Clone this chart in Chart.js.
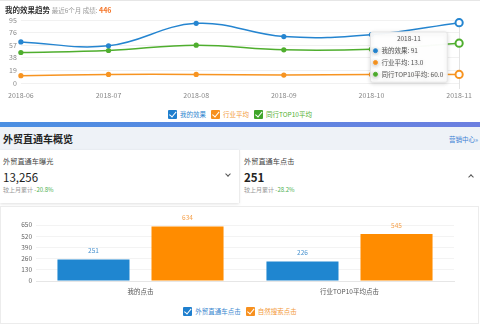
<!DOCTYPE html>
<html><head><meta charset="utf-8">
<script src="https://cdn.jsdelivr.net/npm/chart.js@4.4.1/dist/chart.umd.min.js"></script>
<style>
*{box-sizing:border-box}
body{margin:0;width:480px;height:325px;overflow:hidden;background:#fff;font-family:"Noto Sans CJK SC","Noto Sans",sans-serif;position:relative;color:#333}
.abs{position:absolute}
.cb{display:inline-block;width:9px;height:9px;position:relative;vertical-align:middle;margin-right:3px;border-radius:1px}
.cb::after{content:"";position:absolute;left:3px;top:0.5px;width:2.5px;height:5.5px;border-right:1.6px solid #fff;border-bottom:1.6px solid #fff;transform:rotate(40deg)}
.leg{font-size:6.5px;white-space:nowrap;line-height:10px}
.leg span.item{display:inline-block;margin:0 2.5px}
.chev{position:absolute;width:4px;height:4px;border-right:1px solid #555;border-bottom:1px solid #555}
</style></head>
<body>
<div class="abs" style="left:0;top:0;width:480px;height:1px;background:#e6e6e6"></div>
<canvas id="line" width="480" height="106" class="abs" style="left:0;top:0"></canvas>
<div class="abs" style="left:5px;top:4px;font-size:7.5px;line-height:12px;white-space:nowrap">
  <b style="color:#333">我的效果趋势</b>
  <span style="color:#999;font-size:6.5px"> 最近6个月 成绩: </span><b style="color:#f5762a;font-size:7px">446</b>
</div>
<div class="abs leg" id="topLegend" style="left:0;top:108px;width:480px;text-align:center"></div>

<div class="abs" style="left:0;top:122px;width:480px;height:5px;background:linear-gradient(90deg,#4a8fe2,#6c7fe0)"></div>
<div class="abs" style="left:0;top:127px;width:480px;height:23px;background:#eef2f7"></div>
<div class="abs" style="left:3px;top:127px;line-height:23px;font-size:10px;font-weight:bold;color:#222">外贸直通车概览</div>
<div class="abs" style="right:2px;top:127px;line-height:25px;font-size:6.5px;color:#3b7fd4">营销中心»</div>

<div class="abs" style="left:0;top:150px;width:239px;height:53px;background:#fff;box-shadow:0 1px 3px rgba(0,0,0,0.13)"></div>
<div class="abs" style="left:239px;top:150px;width:1px;height:53px;background:#ececec"></div>
<div class="abs" style="left:3px;top:156px;font-size:7.2px;line-height:10px;color:#444">外贸直通车曝光</div>
<div class="abs" style="left:3px;top:169px;font-size:11.5px;line-height:16px;color:#222">13,256</div>
<div class="abs" style="left:3px;top:185px;font-size:6px;line-height:9px;color:#999">较上月累计 <span style="color:#4caf50">-20.8%</span></div>
<div class="chev" style="left:226px;top:172px;transform:rotate(45deg)"></div>

<div class="abs" style="left:244px;top:156px;font-size:7.2px;line-height:10px;color:#444">外贸直通车点击</div>
<div class="abs" style="left:244px;top:169px;font-size:11.5px;line-height:16px;color:#222;font-weight:bold">251</div>
<div class="abs" style="left:244px;top:185px;font-size:6px;line-height:9px;color:#999">较上月累计 <span style="color:#4caf50">-28.2%</span></div>
<div class="chev" style="left:469px;top:175px;transform:rotate(225deg)"></div>

<div class="abs" style="left:0;top:206px;width:479px;height:118px;border:1px solid #ececec"></div>
<canvas id="bar" width="480" height="95" class="abs" style="left:0;top:208px"></canvas>
<div class="abs leg" id="barLegend" style="left:0;top:305px;width:480px;text-align:center"></div>

<script>
// ---- data ----
const months = ['2018-06','2018-07','2018-08','2018-09','2018-10','2018-11'];
const seriesNames = ['我的效果','行业平均','同行TOP10平均'];
const myEffect = [62, 56, 90, 70, 73, 91];
const industryAvg = [11, 13, 13, 12, 13, 13.0];
const top10Avg = [46, 49, 57, 50, 51, 60.0];
const lineDecimals = [0, 1, 1];
const lineYTicks = {min: 0, max: 95, step: 19};

const barCategories = ['我的点击','行业TOP10平均点击'];
const barSeriesNames = ['外贸直通车点击','自然搜索点击'];
const ztcClicks = [251, 226];
const naturalClicks = [634, 545];
const barYTicks = {min: 0, max: 650, step: 130};

// ---- styles ----
const lineColors = ['#2585d0','#f79421','#4fae2e'];
const legendTextColors = ['#2f86cf','#f39a3a','#52b032'];
const barColors = ['#1f86d0','#ff8c00'];
const barLabelColors = ['#4a93cf','#f5a14c'];
const FONT = '"Noto Sans CJK SC","Noto Sans",sans-serif';

function legendHTML(names, boxColors, textColors){
  return names.map((n,i)=>`<span class="item"><span class="cb" style="background:${boxColors[i]}"></span><span style="color:${textColors[i]};vertical-align:middle">${n}</span></span>`).join('');
}
document.getElementById('topLegend').innerHTML = legendHTML(seriesNames, ['#1f7fce','#f7901e','#3fa52a'], legendTextColors);
document.getElementById('barLegend').innerHTML = legendHTML(barSeriesNames, ['#1f7fce','#f7901e'], ['#3b88cf','#f39a3a']);

Chart.defaults.font.family = FONT;

Chart.Tooltip.positioners.fixedPos = function(items){
  const ch = this.chart;
  return {x: ch.scales.x.getPixelForValue(4) + 1, y: ch.scales.y.getPixelForValue(lineYTicks.max) + 12};
};

const axisPointer = {
  id:'axisPointer',
  beforeDatasetsDraw(chart){
    const act = chart.getActiveElements();
    if(!act.length) return;
    const x = act[0].element.x, a = chart.chartArea, ctx = chart.ctx;
    ctx.save(); ctx.strokeStyle = '#e3e3e3'; ctx.lineWidth = 1;
    ctx.beginPath(); ctx.moveTo(Math.round(x)+0.5, a.top); ctx.lineTo(Math.round(x)+0.5, a.bottom+6); ctx.stroke();
    ctx.restore();
  }
};
const tooltipShadow = {
  id:'tooltipShadow',
  beforeTooltipDraw(chart){ const c = chart.ctx; c.save(); c.shadowColor='rgba(0,0,0,0.15)'; c.shadowBlur=4; c.shadowOffsetY=1; },
  afterTooltipDraw(chart){ chart.ctx.restore(); }
};

const lineSets = [myEffect, industryAvg, top10Avg].map((d,i)=>({
  label: seriesNames[i], data: d, clip: false,
  borderColor: lineColors[i], backgroundColor: lineColors[i],
  pointBackgroundColor: lineColors[i], pointBorderColor: lineColors[i],
  pointRadius: 2.6, pointBorderWidth: 0,
  pointHoverRadius: 3.6, pointHoverBorderWidth: 2,
  pointHoverBackgroundColor: '#fff', pointHoverBorderColor: lineColors[i],
  borderWidth: 1.5, tension: 0.4
}));

const lineChart = new Chart(document.getElementById('line'), {
  type: 'line',
  data: {labels: months, datasets: lineSets},
  options: {
    responsive: false, animation: false, events: [],
    layout: {padding: {top: 20, right: 15, left: 0, bottom: 0}},
    scales: {
      x: {grid: {display: false, drawTicks: false}, border: {display: false},
          ticks: {padding: 8, font: {size: 7}, color: '#888', maxRotation: 0, autoSkip: false},
          afterFit(s){ s.height = 23; }},
      y: {min: lineYTicks.min, max: lineYTicks.max,
          ticks: {stepSize: lineYTicks.step, padding: 4, font: {size: 7}, color: '#888'},
          grid: {color: '#f1f1f1', drawTicks: false}, border: {display: false},
          afterFit(s){ s.width = 16; }}
    },
    plugins: {
      legend: {display: false},
      tooltip: {
        enabled: true, position: 'fixedPos', xAlign: 'left', yAlign: 'top',
        caretSize: 0, caretPadding: 0, cornerRadius: 2,
        backgroundColor: 'rgba(255,255,255,0.97)', borderColor: '#e6e6e6', borderWidth: 1,
        titleColor: '#555', titleFont: {size: 6.5, weight: 'normal'}, titleAlign: 'center', titleMarginBottom: 4,
        bodyColor: '#555', bodyFont: {size: 6.5}, bodySpacing: 4,
        padding: {top: 3, bottom: 4, left: 3, right: 4},
        usePointStyle: true, boxWidth: 4, boxHeight: 4, boxPadding: 2,
        callbacks: {
          label(ctx){ return seriesNames[ctx.datasetIndex] + ': ' + Number(ctx.raw).toFixed(lineDecimals[ctx.datasetIndex]); },
          labelColor(ctx){ const c = lineColors[ctx.datasetIndex]; return {borderColor: c, backgroundColor: c, borderWidth: 0}; },
          labelPointStyle(){ return {pointStyle: 'circle', rotation: 0}; }
        }
      }
    }
  },
  plugins: [axisPointer, tooltipShadow]
});
const act = [0,1,2].map(i=>({datasetIndex: i, index: months.length - 1}));
lineChart.setActiveElements(act);
lineChart.tooltip.setActiveElements(act, {x: 0, y: 0});
lineChart.update();

const valueLabels = {
  id:'valueLabels',
  afterDatasetsDraw(chart){
    const ctx = chart.ctx; ctx.save();
    ctx.font = '6.5px ' + FONT; ctx.textAlign = 'center'; ctx.textBaseline = 'middle';
    chart.data.datasets.forEach((ds,i)=>{
      chart.getDatasetMeta(i).data.forEach((bar,j)=>{
        ctx.fillStyle = barLabelColors[i];
        ctx.fillText(String(ds.data[j]), bar.x, bar.y - 8.5);
      });
    });
    ctx.restore();
  }
};

new Chart(document.getElementById('bar'), {
  type: 'bar',
  data: {labels: barCategories, datasets: [
    {label: barSeriesNames[0], data: ztcClicks, backgroundColor: barColors[0]},
    {label: barSeriesNames[1], data: naturalClicks, backgroundColor: barColors[1]}
  ]},
  options: {
    responsive: false, animation: false, events: [],
    layout: {padding: {top: 17, right: 26, left: 0, bottom: 0}},
    datasets: {bar: {categoryPercentage: 0.9, barPercentage: 0.766}},
    scales: {
      x: {grid: {display: false, drawTicks: false}, border: {color: '#e6e6e6'},
          ticks: {padding: 7, font: {size: 6.5}, color: '#555', maxRotation: 0},
          afterFit(s){ s.height = 22; }},
      y: {min: barYTicks.min, max: barYTicks.max,
          ticks: {stepSize: barYTicks.step, padding: 4, font: {size: 6.5}, color: '#666'},
          grid: {color: '#f3f3f3', drawTicks: false}, border: {display: false},
          afterFit(s){ s.width = 36; }}
    },
    plugins: {legend: {display: false}, tooltip: {enabled: false}}
  },
  plugins: [valueLabels]
});
</script>
</body></html>
